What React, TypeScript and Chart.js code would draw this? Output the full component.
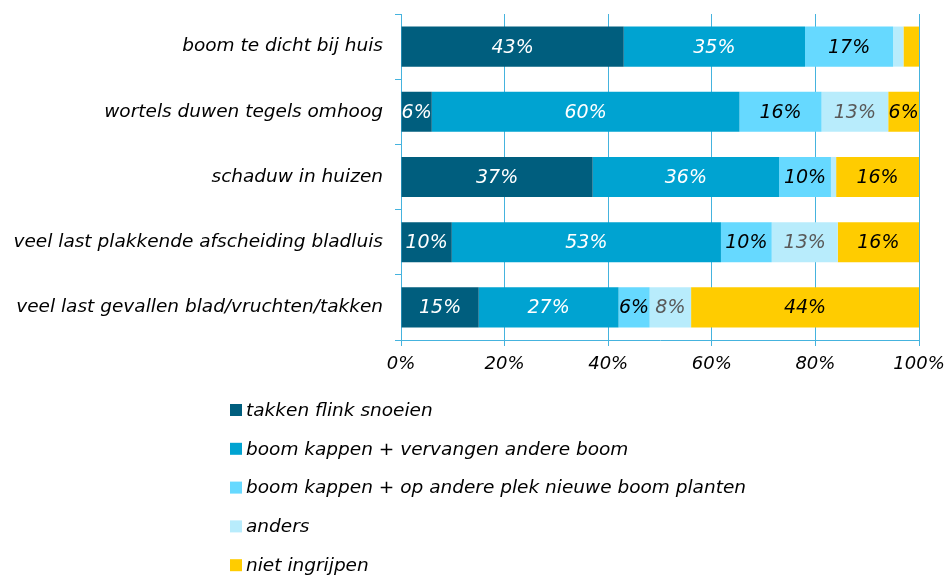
import React, { useEffect, useRef } from "react";
import { Chart, registerables } from "chart.js";
Chart.register(...registerables);

const categories = [
  "boom te dicht bij huis",
  "wortels duwen tegels omhoog",
  "schaduw in huizen",
  "veel last plakkende afscheiding bladluis",
  "veel last gevallen blad/vruchten/takken",
];
const seriesNames = [
  "takken flink snoeien",
  "boom kappen + vervangen andere boom",
  "boom kappen + op andere plek nieuwe boom planten",
  "anders",
  "niet ingrijpen",
];
const snoeien = [43, 6, 37, 10, 15];
const kappenVervangen = [35, 60, 36, 53, 27];
const kappenElders = [17, 16, 10, 10, 6];
const anders = [2, 13, 1, 13, 8];
const nietIngrijpen = [3, 6, 16, 16, 44];
const seriesValues = [snoeien, kappenVervangen, kappenElders, anders, nietIngrijpen];
const seriesColors = ["#005e7e", "#00a3d1", "#66d9ff", "#b8ecfc", "#ffcc00"];
const labelColors = ["#ffffff", "#ffffff", "#000000", "#595959", "#000000"];
const xTickValues = [0, 20, 40, 60, 80, 100];

const FONT = "'DejaVu Sans', Verdana, sans-serif";
const AXIS_COLOR = "#45b3de";

export default function App() {
  const ref = useRef<HTMLCanvasElement>(null);
  useEffect(() => {
    document.body.style.margin = "0";
    const totals = categories.map((_, i) =>
      seriesValues.reduce((s, arr) => s + arr[i], 0)
    );
    const datasets = seriesValues.map((arr, d) => ({
      label: seriesNames[d],
      data: arr.map((v, i) => (v / totals[i]) * 100),
      backgroundColor: seriesColors[d],
      borderWidth: 0,
      barPercentage: 0.615,
      categoryPercentage: 1,
    }));

    const labelPlugin = {
      id: "segLabels",
      afterDatasetsDraw(chart: any) {
        const ctx = chart.ctx;
        ctx.save();
        ctx.font = `italic 19px ${FONT}`;
        ctx.textAlign = "center";
        ctx.textBaseline = "middle";
        chart.data.datasets.forEach((_: any, d: number) => {
          const meta = chart.getDatasetMeta(d);
          meta.data.forEach((bar: any, i: number) => {
            const raw = seriesValues[d][i];
            if (raw < 4) return;
            const { x, base, y } = bar.getProps(["x", "base", "y"], true);
            ctx.fillStyle = labelColors[d];
            ctx.fillText(raw + "%", (x + base) / 2, y + 1);
          });
        });
        ctx.restore();
      },
    };

    const legendPlugin = {
      id: "vertLegend",
      afterDraw(chart: any) {
        const ctx = chart.ctx;
        ctx.save();
        ctx.font = `italic 18.5px ${FONT}`;
        ctx.textBaseline = "middle";
        ctx.textAlign = "left";
        const startY = 410;
        const step = 38.8;
        seriesNames.forEach((name, d) => {
          const cy = startY + d * step;
          ctx.fillStyle = seriesColors[d];
          ctx.fillRect(230, cy - 6, 12, 12);
          ctx.fillStyle = "#000";
          ctx.fillText(name, 246, cy + 1);
        });
        ctx.restore();
      },
    };

    const chart = new Chart(ref.current!, {
      type: "bar",
      data: { labels: categories, datasets },
      options: {
        indexAxis: "y",
        animation: false,
        responsive: false,
        devicePixelRatio: 1,
        layout: { padding: { top: 14, right: 31, bottom: 197, left: 0 } },
        plugins: { legend: { display: false }, tooltip: { enabled: false } },
        scales: {
          x: {
            stacked: true,
            min: 0,
            max: 100,
            afterBuildTicks: (s: any) => {
              s.ticks = xTickValues.map((v) => ({ value: v }));
            },
            afterFit: (s: any) => {
              s.height = 40;
              s.paddingLeft = 0;
              s.paddingRight = 0;
            },
            ticks: {
              callback: (v: any) => v + "%",
              font: { family: FONT, size: 18, style: "italic" },
              color: "#000",
              padding: 8,
              maxRotation: 0,
            },
            grid: { color: AXIS_COLOR, tickLength: 6, lineWidth: 1 },
            border: { color: AXIS_COLOR },
          },
          y: {
            stacked: true,
            afterFit: (s: any) => {
              s.width = 401;
              s.paddingTop = 0;
              s.paddingBottom = 0;
            },
            ticks: {
              font: { family: FONT, size: 18.5, style: "italic" },
              color: "#000",
              padding: 12,
            },
            grid: {
              drawOnChartArea: false,
              color: AXIS_COLOR,
              tickLength: 6,
              offset: true,
            },
            border: { color: AXIS_COLOR },
          },
        },
      },
      plugins: [labelPlugin, legendPlugin],
    });
    return () => chart.destroy();
  }, []);
  return <canvas ref={ref} width={950} height={577} style={{ display: "block" }} />;
}
